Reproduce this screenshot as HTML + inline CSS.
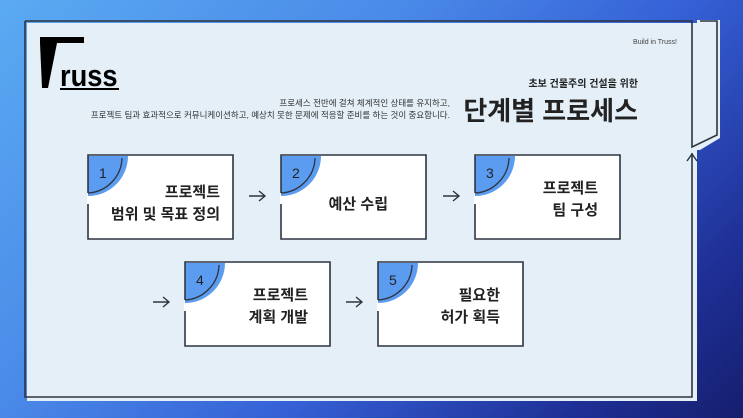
<!DOCTYPE html>
<html><head><meta charset="utf-8"><style>
body{margin:0;width:743px;height:418px;overflow:hidden;background:linear-gradient(135deg,#5aaaf2 0%,#4a8ae8 35%,#3560d6 60%,#1e2f95 85%,#161f6e 100%);font-family:"Liberation Sans","Noto Sans CJK KR",sans-serif;}
svg{position:absolute;left:0;top:0}
</style></head><body>
<svg width="743" height="418" viewBox="0 0 743 418" font-family="'Liberation Sans','Noto Sans CJK KR',sans-serif">
<polygon points="27,23 697,23 697,20 720,20 720,138 700,150 697,150 697,401 27,401" fill="#e4eff7"/>
<polyline points="25,21 692,21 692,147 717,135 717,21 700,21" fill="none" stroke="#2e3440" stroke-width="1.6"/>
<polyline points="692,153 692,397 25,397 25,21" fill="none" stroke="#2e3440" stroke-width="1.6"/>
<polyline points="687,161 692,154 697,161" fill="none" stroke="#2e3440" stroke-width="1.4"/>
<polygon points="40,37 84,37 84,43 57,43 48,88 42,88 40,43" fill="#000"/>
<text x="60" y="86" font-size="31" font-weight="bold" fill="#000" transform="translate(60,0) scale(0.88,1) translate(-60,0)">russ</text>
<rect x="60" y="88" width="59" height="2" fill="#000"/>
<text x="677" y="44" font-size="7" fill="#444" text-anchor="end">Build in Truss!</text>
<text x="638" y="87" font-size="10" font-weight="bold" fill="#222" text-anchor="end">초보 건물주의 건설을 위한</text>
<text x="638" y="120" font-size="26" font-weight="bold" fill="#222" text-anchor="end">단계별 프로세스</text>
<text x="450" y="106" font-size="8.5" fill="#333" text-anchor="end">프로세스 전반에 걸쳐 체계적인 상태를 유지하고,</text>
<text x="450" y="118" font-size="8.5" fill="#333" text-anchor="end">프로젝트 팀과 효과적으로 커뮤니케이션하고, 예상치 못한 문제에 적응할 준비를 하는 것이 중요합니다.</text>
<defs>
<g id="card">
<rect x="0" y="0" width="146" height="84" fill="#fff"/>
<path d="M1,1 H41 A40,40 0 0 1 1,41 Z" fill="#5b9cf0"/>
<path d="M1,38 A36,36 0 0 0 35,3" fill="none" stroke="#2e3440" stroke-width="1.3"/>
<polyline points="1,38 1,0 146,0 146,84 1,84 1,49" fill="none" stroke="#2e3440" stroke-width="1.6"/>
</g>
<g id="arr"><path d="M0,0 H16 M10,-5 L16,0 L10,5" fill="none" stroke="#2e3440" stroke-width="1.4"/></g>
</defs>
<use href="#card" x="87" y="155"/>
<use href="#card" x="280" y="155"/>
<use href="#card" x="474" y="155"/>
<use href="#card" x="184" y="262"/>
<use href="#card" x="377" y="262"/>
<use href="#arr" x="249" y="196"/>
<use href="#arr" x="443" y="196"/>
<use href="#arr" x="153" y="302"/>
<use href="#arr" x="346" y="302"/>
<g font-size="14" fill="#222">
<text x="99" y="178">1</text><text x="292" y="178">2</text><text x="486" y="178">3</text>
<text x="196" y="285">4</text><text x="389" y="285">5</text>
</g>
<g font-size="15" fill="#222" font-weight="bold" text-anchor="end">
<text x="220" y="197">프로젝트</text><text x="220" y="219">범위 및 목표 정의</text>
<text x="388" y="209">예산 수립</text>
<text x="598" y="193">프로젝트</text><text x="598" y="215">팀 구성</text>
<text x="308" y="300">프로젝트</text><text x="308" y="322">계획 개발</text>
<text x="500" y="300">필요한</text><text x="500" y="322">허가 획득</text>
</g>
</svg>
</body></html>
